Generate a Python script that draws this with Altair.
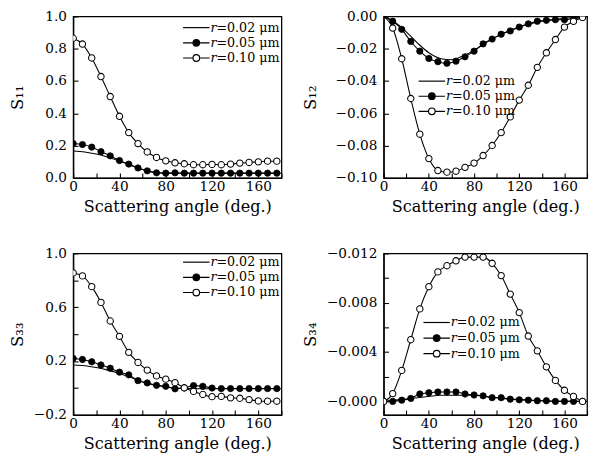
import altair as alt
import pandas as pd

SERIES = ["𝑟=0.02 μm", "𝑟=0.05 μm", "𝑟=0.10 μm"]
ANG_LINE = [0, 10, 20, 30, 40, 50, 60, 70, 80, 90, 100, 110, 120, 130, 140, 150, 160, 170, 180]
ANG_MARK = [0, 8, 16, 24, 32, 40, 48, 56, 64, 72, 80, 88, 96, 104, 112, 120, 128, 136, 144, 152, 160, 168, 176]

# S11
S11_R002 = [0.167, 0.161, 0.148, 0.129, 0.105, 0.078, 0.052, 0.036, 0.030, 0.029, 0.029, 0.029, 0.029, 0.029, 0.029, 0.029, 0.029, 0.029, 0.029]
S11_R005 = [0.213, 0.207, 0.191, 0.163, 0.137, 0.108, 0.086, 0.062, 0.044, 0.032, 0.030, 0.032, 0.030, 0.030, 0.030, 0.030, 0.030, 0.030, 0.030, 0.030, 0.030, 0.030, 0.030]
S11_R010 = [0.865, 0.829, 0.743, 0.628, 0.504, 0.382, 0.281, 0.213, 0.161, 0.127, 0.106, 0.094, 0.088, 0.082, 0.082, 0.084, 0.082, 0.086, 0.092, 0.096, 0.100, 0.104, 0.104]

# S12
S12_R002 = [0.0, -0.0035, -0.0095, -0.0165, -0.0225, -0.026, -0.0268, -0.0245, -0.021, -0.0165, -0.0125, -0.0092, -0.0066, -0.0045, -0.003, -0.002, -0.0012, -0.0005, 0.0]
S12_R005 = [0.0, -0.003, -0.008, -0.0155, -0.0215, -0.026, -0.028, -0.029, -0.0277, -0.025, -0.0215, -0.017, -0.014, -0.011, -0.009, -0.0066, -0.0046, -0.003, -0.0024, -0.002, -0.002, -0.0014, -0.0006]
S12_R010 = [0.0, -0.0072, -0.0262, -0.0508, -0.0729, -0.0880, -0.0954, -0.0964, -0.0958, -0.0934, -0.0908, -0.0861, -0.0799, -0.0719, -0.0622, -0.0518, -0.0426, -0.0315, -0.0225, -0.0143, -0.0066, -0.0030, -0.0006]

# S33
S33_R002 = [0.171, 0.166, 0.152, 0.133, 0.108, 0.078, 0.045, 0.022, 0.008, 0.0, -0.004, -0.005, -0.005, -0.005, -0.005, -0.005, -0.005, -0.005, -0.005]
S33_R005 = [0.220, 0.212, 0.195, 0.171, 0.147, 0.118, 0.098, 0.055, 0.038, 0.020, 0.013, -0.006, 0.000, 0.018, 0.013, 0.000, -0.004, -0.004, -0.004, -0.004, -0.004, -0.004, -0.004]
S33_R010 = [0.855, 0.833, 0.753, 0.636, 0.498, 0.384, 0.265, 0.190, 0.133, 0.090, 0.066, 0.040, 0.002, -0.025, -0.048, -0.064, -0.062, -0.073, -0.076, -0.086, -0.096, -0.098, -0.098]

# S34
S34_R002 = [0.0, -0.0001, -0.0002, -0.0003, -0.0004, -0.0005, -0.0005, -0.0005, -0.0005, -0.0004, -0.0003, -0.0002, -0.00015, -0.0001, -0.00005, 0.0, 0.0, 0.0, 0.0]
S34_R005 = [0.0, 0.0, -0.0001, -0.00024, -0.0006, -0.0007, -0.00076, -0.00076, -0.00076, -0.0006, -0.00052, -0.00045, -0.0003, -0.0003, -0.00018, -0.00013, -0.0001, -0.00005, -0.00005, 0.0, 0.0, 0.0, 0.0]
S34_R010 = [0.0, -0.00063, -0.00251, -0.0050, -0.0075, -0.0093, -0.0105, -0.0110, -0.0114, -0.0117, -0.0117, -0.0117, -0.0112, -0.0102, -0.0087, -0.0072, -0.0053, -0.0041, -0.0028, -0.0017, -0.0009, -0.0004, 0.0]

X_TICKS = [0, 20, 40, 60, 80, 100, 120, 140, 160, 180]

FONT = "DejaVu Serif"
LEG_PATHS = [
    "M-3.4,0L3.4,0",
    "M-3.4,0L-0.85,0M0.85,0L3.4,0M0.85,0A0.85,0.85,0,1,1,-0.85,0A0.85,0.85,0,1,1,0.85,0Z",
    "M-3.4,0L-0.85,0M0.85,0L3.4,0M0.85,0A0.85,0.85,0,1,1,-0.85,0A0.85,0.85,0,1,1,0.85,0Z",
]


def make_df(l002, m005, m010):
    rows = []
    for a, v in zip(ANG_LINE, l002):
        rows.append({"angle": a, "value": v, "series": SERIES[0]})
    for a, v in zip(ANG_MARK, m005):
        rows.append({"angle": a, "value": v, "series": SERIES[1]})
    for a, v in zip(ANG_MARK, m010):
        rows.append({"angle": a, "value": v, "series": SERIES[2]})
    return pd.DataFrame(rows)


def panel(df, title, ydomain, yvalues, yfmt, ylabelexpr, reverse, width, extent, lx, ly, rowpad, min_marker_angle=-1):
    x = alt.X("angle:Q", scale=alt.Scale(domain=[0, 180], nice=False, zero=False),
              axis=alt.Axis(values=X_TICKS, title="Scattering angle (deg.)",
                            labelExpr="datum.value % 40 == 0 && datum.value < 180 ? datum.label : ''",
                            labelFlush=False, tickSize={"expr": "-5"}, labelPadding=7, titlePadding=5))
    yaxis_kw = dict(values=yvalues, title=title, format=yfmt, tickSize={"expr": "-5"},
                    labelPadding=12, titlePadding=4, minExtent=extent, maxExtent=extent)
    if ylabelexpr:
        yaxis_kw["labelExpr"] = ylabelexpr
    y = alt.Y("value:Q", scale=alt.Scale(domain=ydomain, nice=False, zero=False, reverse=reverse),
              axis=alt.Axis(**yaxis_kw))
    base = alt.Chart(df)
    lines = base.mark_line(color="black", strokeWidth=1.1, interpolate="monotone", clip=True).encode(
        x=x, y=y, detail="series:N")
    filled = base.transform_filter(
        f"datum.series == '{SERIES[1]}' && datum.angle > {min_marker_angle}"
    ).mark_point(filled=True, fill="black", stroke="black", strokeWidth=0.8, size=42, opacity=1, clip=True).encode(x=x, y=y)
    opened = base.transform_filter(
        f"datum.series == '{SERIES[2]}' && datum.angle > {min_marker_angle}"
    ).mark_point(filled=True, fill="white", stroke="black", strokeWidth=1.1, size=42, opacity=1, clip=True).encode(x=x, y=y)
    leg = alt.Legend(title=None, orient="none", legendX=lx, legendY=ly, symbolSize=64,
                     symbolStrokeColor="black", symbolStrokeWidth=1.2, symbolOpacity=1,
                     labelOffset=8, labelFont=FONT, labelFontSize=13,
                     labelColor="black", rowPadding=rowpad, padding=0)
    dummy = base.mark_point(filled=True, opacity=0, size=1, clip=True).encode(
        x=x, y=y,
        shape=alt.Shape("series:N", scale=alt.Scale(domain=SERIES, range=LEG_PATHS), legend=leg),
        fill=alt.Fill("series:N", scale=alt.Scale(domain=SERIES, range=["black", "black", "white"]), legend=leg),
        stroke=alt.Stroke("series:N", scale=alt.Scale(domain=SERIES, range=["black", "black", "black"]), legend=leg),
    )
    return alt.layer(lines, filled, opened, dummy).properties(width=width, height=166)


p11 = panel(make_df(S11_R002, S11_R005, S11_R010), "S₁₁", [0, 1], [0.0, 0.2, 0.4, 0.6, 0.8, 1.0], ".1f", None,
            False, 214, 44, 120, 5, 1.6)
p12 = panel(make_df(S12_R002, S12_R005, S12_R010), "S₁₂", [-0.1, 0.0], [-0.10, -0.08, -0.06, -0.04, -0.02, 0.0], ".2f", None,
            False, 209, 62, 43, 60, 1.5, min_marker_angle=0)
p33 = panel(make_df(S33_R002, S33_R005, S33_R010), "S₃₃", [-0.2, 1.0], [-0.2, 0.0, 0.2, 0.4, 0.6, 0.8, 1.0], ".1f",
            "abs(round(datum.value*10)) % 4 == 2 ? datum.label : ''", False, 214, 44, 120, 2.5, 1.6)
p34 = panel(make_df(S34_R002, S34_R005, S34_R010), "S₃₄", [-0.012, 0.0011],
            [-0.012, -0.010, -0.008, -0.006, -0.004, -0.002, 0.0], ".3f",
            "abs(round(datum.value*1000)) % 4 == 0 ? (datum.value == 0 ? '−0.000' : datum.label) : ''",
            True, 209, 62, 48, 64.5, 2.0)

IND = dict(shape="independent", fill="independent", stroke="independent")

chart = alt.vconcat(
    alt.hconcat(p11, p12, spacing=18).resolve_scale(**IND),
    alt.hconcat(p33, p34, spacing=18).resolve_scale(**IND),
    spacing=30.5,
).resolve_scale(**IND).properties(
    padding={"left": 0, "top": -5.5, "right": 0, "bottom": -3}
).configure_view(
    stroke="black", strokeWidth=1.3
).configure_axis(
    domainColor="black", domainWidth=1.3, tickColor="black", tickWidth=1.1, grid=False,
    labelFont=FONT, labelFontSize=14, labelColor="black",
    titleFont=FONT, titleFontSize=16.5, titleFontWeight="normal", titleColor="black"
).configure_axisLeft(
    titleFontSize=17
)

chart.save("out.html", embed_options={"renderer": "svg", "actions": False})
